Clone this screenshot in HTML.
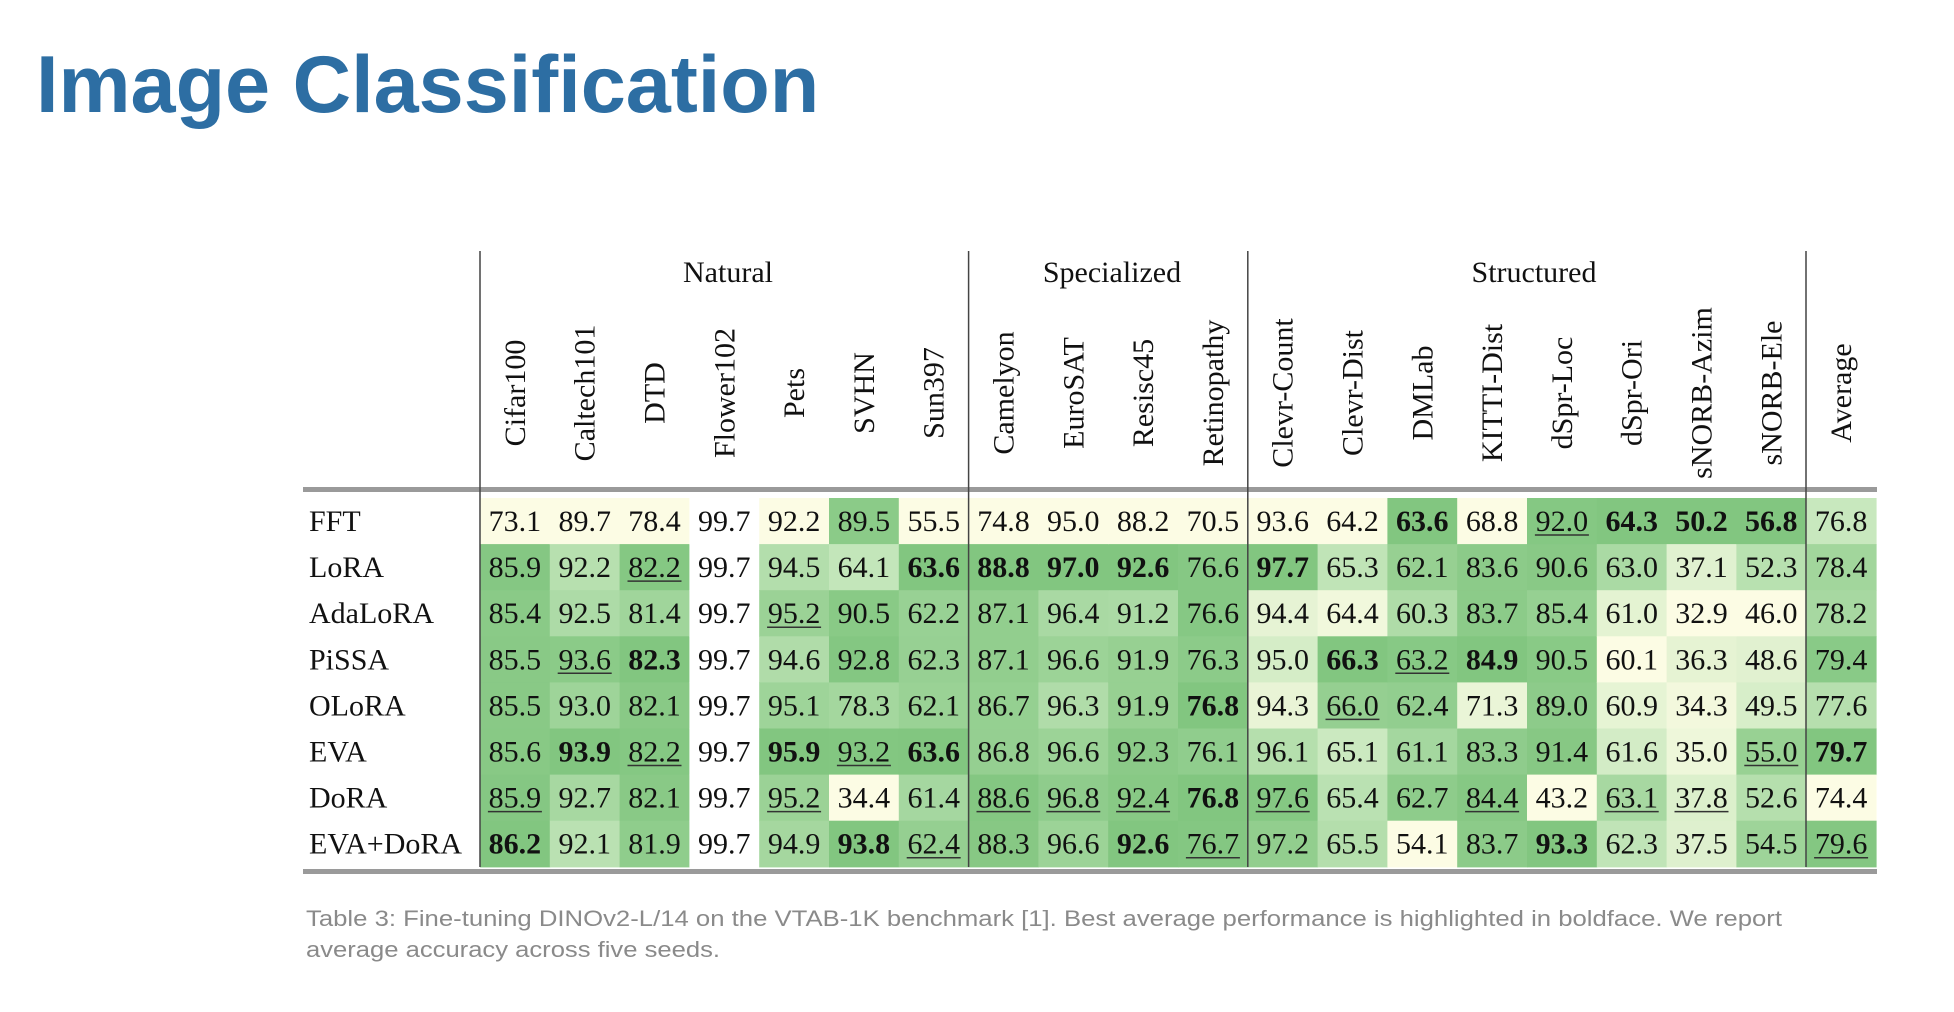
<!DOCTYPE html>
<html><head><meta charset="utf-8">
<style>
html,body{margin:0;padding:0;background:#fff;}
body{width:1954px;height:1012px;overflow:hidden;position:relative;}
svg{position:absolute;left:0;top:0;}
</style></head>
<body>
<svg id="s" width="1954" height="1012" xmlns="http://www.w3.org/2000/svg">
<text x="36" y="112" font-family="Liberation Sans, sans-serif" font-weight="bold" font-size="81" fill="#2d6ea3">Image Classification</text>
<g id="cells"></g>
<g id="txt" font-family="Liberation Serif, serif" font-size="30" fill="#111"></g>
<rect x="303" y="487" width="1574" height="5" fill="#9a9a9a"/>
<rect x="303" y="869" width="1574" height="5" fill="#9a9a9a"/>
<g stroke="#444" stroke-width="1.5">
<line x1="480" y1="251" x2="480" y2="867"/>
<line x1="968.6" y1="251" x2="968.6" y2="867"/>
<line x1="1247.8" y1="251" x2="1247.8" y2="867"/>
<line x1="1806" y1="251" x2="1806" y2="867"/>
</g>
<g font-family="Liberation Serif, serif" font-size="30" fill="#111" text-anchor="middle">
<text x="728" y="282">Natural</text>
<text x="1112" y="282">Specialized</text>
<text x="1534" y="282">Structured</text>
</g>
<g font-family="Liberation Sans, sans-serif" font-size="22" fill="#8a8a8a">
<text x="306" y="926" textLength="1476" lengthAdjust="spacingAndGlyphs">Table 3: Fine-tuning DINOv2-L/14 on the VTAB-1K benchmark [1]. Best average performance is highlighted in boldface. We report</text>
<text x="306" y="957" textLength="414" lengthAdjust="spacingAndGlyphs">average accuracy across five seeds.</text>
</g>
</svg>
<script>
var NS="http://www.w3.org/2000/svg";
var heads=["Cifar100","Caltech101","DTD","Flower102","Pets","SVHN","Sun397","Camelyon","EuroSAT","Resisc45","Retinopathy","Clevr-Count","Clevr-Dist","DMLab","KITTI-Dist","dSpr-Loc","dSpr-Ori","sNORB-Azim","sNORB-Ele","Average"];
var names=["FFT","LoRA","AdaLoRA","PiSSA","OLoRA","EVA","DoRA","EVA+DoRA"];
var rows=[
"73.1 89.7 78.4 99.7 92.2 89.5 55.5 74.8 95.0 88.2 70.5 93.6 64.2 *63.6 68.8 _92.0 *64.3 *50.2 *56.8 76.8",
"85.9 92.2 _82.2 99.7 94.5 64.1 *63.6 *88.8 *97.0 *92.6 76.6 *97.7 65.3 62.1 83.6 90.6 63.0 37.1 52.3 78.4",
"85.4 92.5 81.4 99.7 _95.2 90.5 62.2 87.1 96.4 91.2 76.6 94.4 64.4 60.3 83.7 85.4 61.0 32.9 46.0 78.2",
"85.5 _93.6 *82.3 99.7 94.6 92.8 62.3 87.1 96.6 91.9 76.3 95.0 *66.3 _63.2 *84.9 90.5 60.1 36.3 48.6 79.4",
"85.5 93.0 82.1 99.7 95.1 78.3 62.1 86.7 96.3 91.9 *76.8 94.3 _66.0 62.4 71.3 89.0 60.9 34.3 49.5 77.6",
"85.6 *93.9 _82.2 99.7 *95.9 _93.2 *63.6 86.8 96.6 92.3 76.1 96.1 65.1 61.1 83.3 91.4 61.6 35.0 _55.0 *79.7",
"_85.9 92.7 82.1 99.7 _95.2 34.4 61.4 _88.6 _96.8 _92.4 *76.8 _97.6 65.4 62.7 _84.4 43.2 _63.1 _37.8 52.6 74.4",
"*86.2 92.1 81.9 99.7 94.9 *93.8 _62.4 88.3 96.6 *92.6 _76.7 97.2 65.5 54.1 83.7 *93.3 62.3 37.5 54.5 _79.6"
].map(function(r){return r.split(" ");});
var x0=480,cw=69.8,y0=498,rh=46.1;
var cells=document.getElementById("cells"),txt=document.getElementById("txt");
function el(n,a,p){var e=document.createElementNS(NS,n);for(var k in a)e.setAttribute(k,a[k]);p.appendChild(e);return e;}
function col(t){
 var c0=[252,252,228],c1=[195,230,186],c2=[130,198,128],a,b,u;
 if(t<0.5){a=c0;b=c1;u=t/0.5;}else{a=c1;b=c2;u=(t-0.5)/0.5;}
 return "rgb("+[0,1,2].map(function(i){return Math.round(a[i]+(b[i]-a[i])*u);}).join(",")+")";
}
for(var c=0;c<20;c++){
 var vals=rows.map(function(r){return parseFloat(r[c].replace(/[*_]/g,""));});
 var mn=Math.min.apply(null,vals),mx=Math.max.apply(null,vals);
 var cx=x0+c*cw+cw/2;
 var h=el("text",{x:0,y:0,"text-anchor":"middle",transform:"translate("+(cx+10)+",393) rotate(-90)"},txt);h.textContent=heads[c];
 for(var r=0;r<8;r++){
  var fill=(mx==mn)?"#ffffff":col((vals[r]-mn)/(mx-mn));
  el("rect",{x:x0+c*cw,y:y0+r*rh,width:cw+0.6,height:rh+0.6,fill:fill},cells);
  var s=rows[r][c],bold=s[0]=="*",und=s[0]=="_";
  var t=el("text",{x:cx,y:y0+r*rh+33,"text-anchor":"middle"},txt);
  if(bold)t.setAttribute("font-weight","bold");
  t.textContent=s.replace(/[*_]/g,"");
  if(und)el("line",{x1:cx-27,x2:cx+27,y1:y0+r*rh+37,y2:y0+r*rh+37,stroke:"#333","stroke-width":1.5},txt);
 }
}
for(var r=0;r<8;r++){var t=el("text",{x:309,y:y0+r*rh+33},txt);t.textContent=names[r];}
</script>
</body></html>
